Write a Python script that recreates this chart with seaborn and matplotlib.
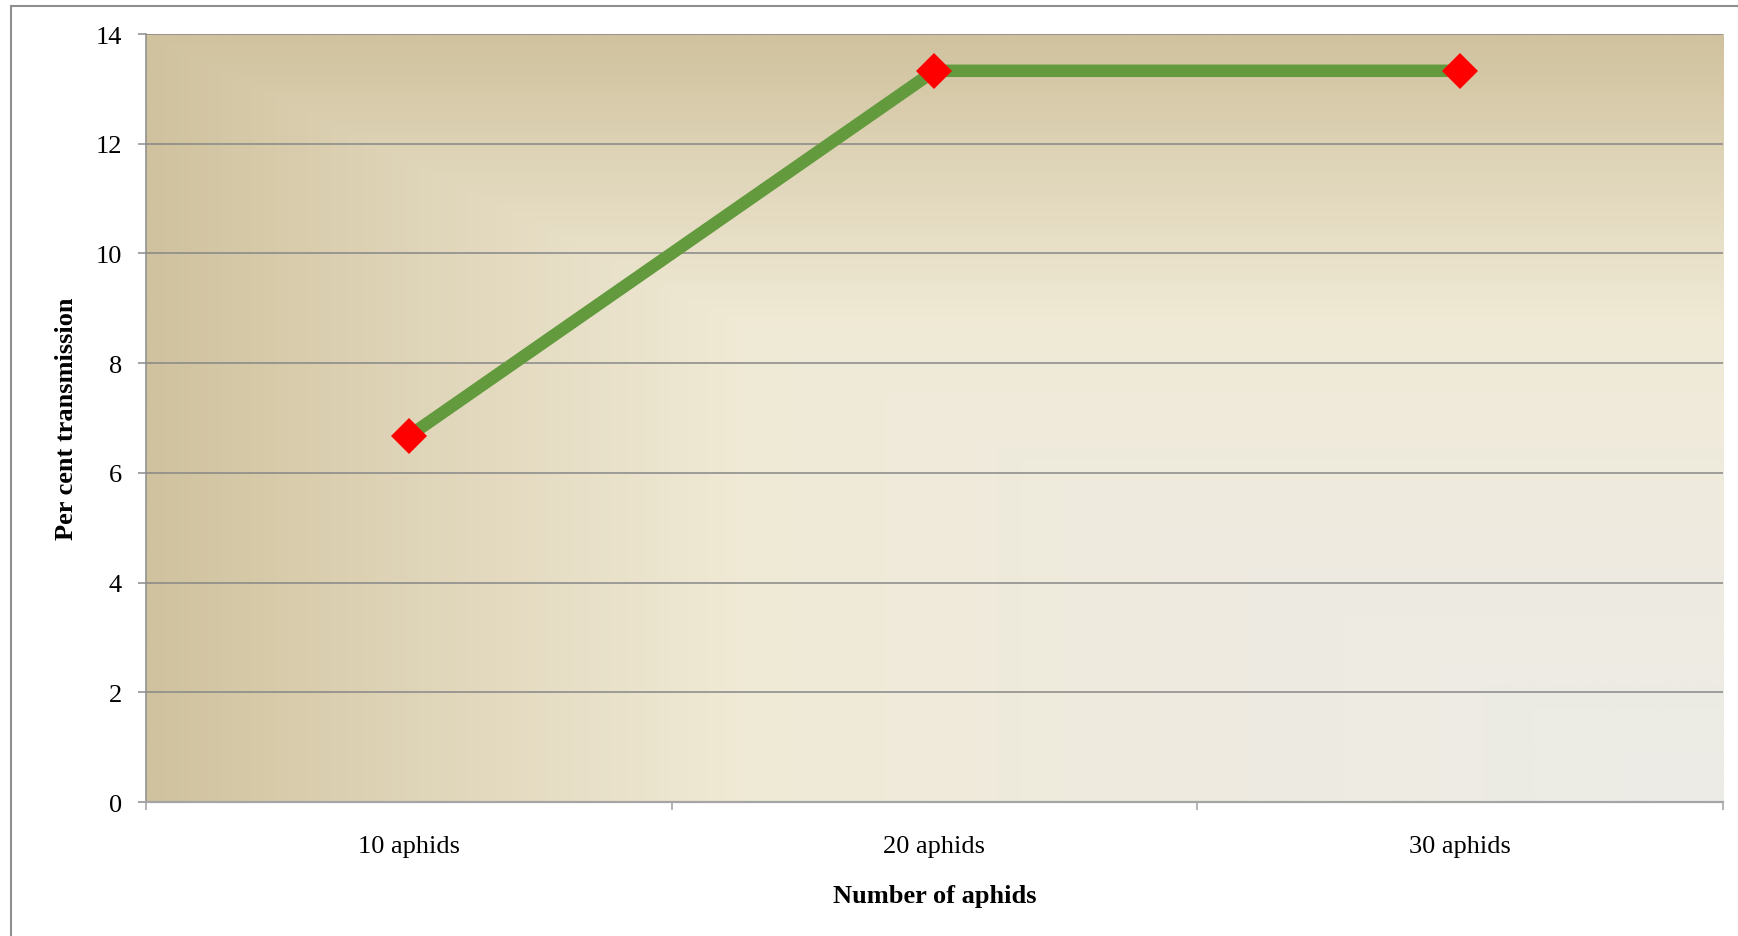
import numpy as np
import pandas as pd
import matplotlib
matplotlib.use("Agg")
import matplotlib.pyplot as plt
from matplotlib.colors import LinearSegmentedColormap
from matplotlib.ticker import FixedLocator, FixedFormatter, NullFormatter
from matplotlib.patches import Rectangle
import seaborn as sns

# Data
categories = ["10 aphids", "20 aphids", "30 aphids"]
transmission = [6.67, 13.33, 13.33]
y_ticks = [0, 2, 4, 6, 8, 10, 12, 14]

df = pd.DataFrame({"aphids": categories, "transmission": transmission})

sns.set_style("white")
plt.rcParams["font.family"] = ["Liberation Serif", "DejaVu Serif"]
plt.rcParams["text.color"] = "black"
plt.rcParams["axes.labelcolor"] = "black"
plt.rcParams["xtick.labelcolor"] = "black"
plt.rcParams["ytick.labelcolor"] = "black"

fig = plt.figure(figsize=(17.38, 9.37), dpi=100)
ax = fig.add_axes([0.0840, 0.1430, 0.99137 - 0.0840, 0.9626 - 0.1430])

# Parchment-style rectangular gradient radiating from the lower-right corner
stops = [(0.0, "#ECEBE6"), (0.30, "#EEEBE1"), (0.62, "#F0EAD6"),
         (0.82, "#E0D6BA"), (1.0, "#D0C29E")]
cmap = LinearSegmentedColormap.from_list("parchment", stops)
nx, ny = 800, 400
u = np.linspace(0, 1, nx)[None, :]
v = np.linspace(0, 1, ny)[:, None]
t = np.maximum(1 - u, v)
ax.imshow(t, cmap=cmap, vmin=0, vmax=1, origin="lower", aspect="auto",
          extent=[0, 1, 0, 1], transform=ax.transAxes, zorder=0,
          interpolation="bilinear")

sns.lineplot(data=df, x="aphids", y="transmission", ax=ax, sort=False,
             color="#629A3D", linewidth=9.0, marker="D", markersize=18,
             markerfacecolor="#FF0000", markeredgecolor="#FF0000",
             markeredgewidth=0, zorder=5)

ax.set_xlim(-0.5, len(categories) - 0.5)
ax.set_ylim(0, 14)

# Category boundaries as major ticks, names centred as minor ticks
bounds = np.arange(len(categories) + 1) - 0.5
ax.xaxis.set_major_locator(FixedLocator(bounds))
ax.xaxis.set_major_formatter(NullFormatter())
ax.xaxis.set_minor_locator(FixedLocator(np.arange(len(categories))))
ax.xaxis.set_minor_formatter(FixedFormatter(categories))
ax.tick_params(axis="x", which="major", direction="out", length=6,
               width=1.1, color="#A0A0A0", bottom=True)
ax.tick_params(axis="x", which="minor", length=0, pad=23.5,
               labelsize=19, labelcolor="black", bottom=True)

ax.set_yticks(y_ticks)
ax.set_yticklabels([str(v) for v in y_ticks])
ax.tick_params(axis="y", direction="out", length=5.8, width=1.1,
               color="#8C8C8C", pad=11.5, labelsize=19, labelcolor="black",
               left=True)

ax.yaxis.grid(True, color="#878787", linewidth=1.1, zorder=1)
ax.xaxis.grid(False)
ax.set_axisbelow(False)
for gl in ax.get_ygridlines():
    gl.set_zorder(1)

for side in ("top", "right"):
    ax.spines[side].set_visible(False)
ax.spines["left"].set_color("#8C8C8C")
ax.spines["left"].set_linewidth(1.1)
ax.spines["bottom"].set_color("#A5A5A5")
ax.spines["bottom"].set_linewidth(1.6)
ax.spines["left"].set_zorder(3)
ax.spines["bottom"].set_zorder(3)

ax.set_xlabel("Number of aphids", fontsize=19, fontweight="bold",
              color="black")
ax.set_ylabel("Per cent transmission", fontsize=19, fontweight="bold",
              color="black")
ax.xaxis.set_label_coords(0.5, -0.1066)
ax.yaxis.set_label_coords(-0.043, 0.5)

# Chart frame
fig.patches.append(Rectangle((11 / 1738, -0.05), 1.2, 1 - 6.5 / 937 + 0.05,
                             transform=fig.transFigure, fill=False,
                             edgecolor="#8E8E8E", linewidth=1.5))

fig.savefig("out.png", dpi=100)
